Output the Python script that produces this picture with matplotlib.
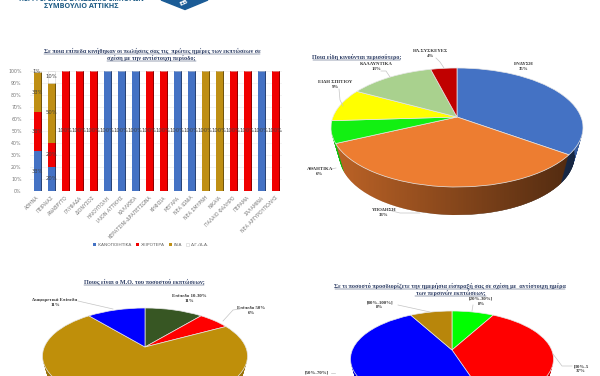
"""Survey dashboard: one stacked bar chart and three tilted pies."""
import matplotlib

matplotlib.use("Agg")
import matplotlib.pyplot as plt
import matplotlib.transforms as mtransforms
import numpy as np
from matplotlib.patches import Polygon
from matplotlib.ticker import PercentFormatter

W, H = 600, 376

# -- data --------------------------------------------------------------
areas = ["ΑΘΗΝΑ", "ΠΕΙΡΑΙΑΣ", "ΑΝΑΒΡΥΤΟ", "ΓΛΥΦΑΔΑ", "ΔΙΟΝΥΣΟΣ", "ΗΛΙΟΥΠΟΛΗ", "ΙΛΙΟΝ ΑΤΤΙΚΗΣ",
         "ΚΑΛΛΙΘΕΑ", "ΚΕΡΑΤΣΙΝΙ-ΔΡΑΠΕΤΣΩΝΑ", "ΚΗΦΙΣΙΑ", "ΜΕΓΑΡΑ", "ΝΕΑ ΙΩΝΙΑ", "ΝΕΑ ΣΜΥΡΝΗ",
         "ΝΙΚΑΙΑ", "ΠΑΛΑΙΟ ΦΑΛΗΡΟ", "ΠΕΡΑΜΑ", "ΣΑΛΑΜΙΝΑ", "ΝΕΑ ΑΡΓΥΡΟΥΠΟΛΗΣ"]
good = [33, 20, 0, 0, 0, 100, 100, 100, 0, 0, 100, 100, 0, 0, 0, 0, 100, 0]
worse = [33, 20, 100, 100, 100, 0, 0, 0, 100, 100, 0, 0, 0, 0, 100, 100, 0, 100]
same = [33, 50, 0, 0, 0, 0, 0, 0, 0, 0, 0, 0, 100, 100, 0, 0, 0, 0]
no_answer = [1, 10, 0, 0, 0, 0, 0, 0, 0, 0, 0, 0, 0, 0, 0, 0, 0, 0]
bar_names = ["ΙΚΑΝΟΠΟΙΗΤΙΚΑ", "ΧΕΙΡΟΤΕΡΑ", "ΙΔΙΑ", "Δ.Γ./Δ.Α."]
bar_colors = ["#4472c4", "#f00000", "#bf8f14", "#ffffff"]

goods_names = ["ΕΝΔΥΣΗ", "ΥΠΟΔΗΣΗ", "ΑΘΛΗΤΙΚΑ", "ΕΙΔΗ ΣΠΙΤΙΟΥ", "ΚΑΛΛΥΝΤΙΚΑ", "ΗΛ.ΣΥΣΚΕΥΕΣ"]
goods_share = [35, 33, 6, 9, 13, 4]
goods_colors = ["#4472c4", "#ed7d31", "#12f012", "#ffff00", "#a9d18e", "#c00000"]

level_names = ["Επίπεδο 10-30%", "Επίπεδο 50%", "Επίπεδο 70%", "Διαφορετικά Επίπεδα"]
level_share = [11, 6, 72, 11]
level_colors = ["#375623", "#ff0000", "#bf8f0a", "#0000ff"]

takings_names = ["[20%-30%]", "[30%-5", "[50%-70%]", "[80%-100%]"]
takings_share = [8, 37, 47, 8]
takings_colors = ["#00ff00", "#ff0000", "#0000ff", "#b8860b"]

NAVY = "#2f3f66"
serif = "Liberation Serif"
NARROW = 0.3  # side wall narrows by this many pixels per pixel of depth


class Tilt(mtransforms.Transform):
    """Unit disc seen in perspective, landing in pixel coordinates."""

    input_dims = output_dims = 2

    def __init__(self, cx, cy, top, bottom, rx, drop=0):
        super().__init__()
        self.k = (bottom - top) / (bottom + top)
        self.a = top * (1 + self.k)
        self.b = (rx - NARROW * drop) * np.sqrt(1 - self.k**2)
        self.cx, self.cy, self.drop = cx, cy, drop

    def transform_non_affine(self, values):
        x, y = np.asarray(values).T
        w = 1 + self.k * y
        return np.column_stack([self.cx + self.b * x / w, self.cy + self.drop - self.a * y / w])


def tilted_pie(ax, share, colors, cx, cy, top, bottom, rx, depth=28, shade=0.55):
    side = [tuple(c * 0.8 for c in matplotlib.colors.to_rgb(col)) for col in colors]
    for drop in range(depth, 0, -1):
        wedges, _ = ax.pie(share, colors=side, startangle=90, counterclock=False)
        for w in wedges:
            w.set_transform(Tilt(cx, cy, top, bottom, rx, drop) + ax.transData)
            w.set_zorder(1)

    # side wall darkens from left to right
    t = np.linspace(0, 2 * np.pi, 361)[:-1]
    unit = np.column_stack([np.cos(t), np.sin(t)])
    rim = Tilt(cx, cy, top, bottom, rx).transform_non_affine(unit)
    low = Tilt(cx, cy, top, bottom, rx, depth).transform_non_affine(unit)
    right, left = rim[:, 0].argmax(), rim[:, 0].argmin()
    upper = rim[right:left + 1]
    lower = np.vstack([low[left:], low[:right + 1]])
    ramp = np.zeros((1, 256, 4))
    ramp[..., 3] = np.linspace(0, shade, 256)
    img = ax.imshow(ramp, extent=[cx - rx, cx + rx, cy + bottom + depth, cy - top],
                    aspect="auto", zorder=2, interpolation="bilinear")
    img.set_clip_path(Polygon(np.vstack([upper, lower]), transform=ax.transData))

    wedges, _ = ax.pie(share, colors=colors, startangle=90, counterclock=False,
                       wedgeprops=dict(edgecolor="#e8e8e8", linewidth=0.5))
    for w in wedges:
        w.set_transform(Tilt(cx, cy, top, bottom, rx) + ax.transData)
        w.set_zorder(3)


def label(ax, x, y, name, pct, size=3.5):
    ax.text(x, y, name, ha="center", va="center", fontsize=size, family=serif, weight="bold", color="#333333", zorder=5)
    ax.text(x, y + 5.2, pct, ha="center", va="center", fontsize=size, family=serif, weight="bold", color="#333333", zorder=5)


def leader(ax, xs, ys):
    ax.plot(xs, ys, color="#c4c4c4", lw=0.5, zorder=4)


def title(ax, x0, x1, y, text, size=4.4):
    ax.text((x0 + x1) / 2, y, text, ha="center", va="center", fontsize=size, family=serif, weight="bold", color=NAVY, zorder=5)
    ax.plot([x0, x1], [y + 2.6, y + 2.6], color=NAVY, lw=0.35, zorder=5)


fig = plt.figure(figsize=(W / 100, H / 100), dpi=100)
canvas = fig.add_axes([0, 0, 1, 1])

# -- pies ---------------------------------------------------------------
tilted_pie(canvas, goods_share, goods_colors, 457, 117, 49, 70, 126, shade=0.6)
tilted_pie(canvas, level_share, level_colors, 145, 347, 39, 57, 102.5)
tilted_pie(canvas, takings_share, takings_colors, 452, 350, 39, 57, 101.5)

# -- header ---------------------------------------------------------------
canvas.text(81, 6.5, "ΣΥΜΒΟΥΛΙΟ ΑΤΤΙΚΗΣ", ha="center", va="center", fontsize=5.2, weight="bold",
            family="Open Sans", color="#1f5c85")
canvas.text(81, -0.5, "ΠΕΡΙΦΕΡΕΙΑΚΟ ΣΥΝΔΕΣΜΟ ΕΜΠΟΡΩΝ", ha="center", va="center", fontsize=4.8, weight="bold",
            family="Open Sans", color="#1f5c85", clip_on=True)
canvas.fill([161, 208, 185], [0, 0, 9.5], color="#1b5c96")
canvas.text(184, 2.5, "ΕΒ", rotation=25, ha="center", va="center", fontsize=4.5, weight="bold", color="white")

# -- titles and labels ----------------------------------------------------
title(canvas, 44, 260, 51, "Σε ποια επίπεδα κινήθηκαν οι πωλήσεις σας τις  πρώτες ημέρες των εκπτώσεων σε")
title(canvas, 107, 196, 58, "σχέση με την αντίστοιχη περίοδο;")
title(canvas, 313, 400, 57, "Ποια είδη κινούνται περισσότερο;")
title(canvas, 84, 204, 282, "Ποιος είναι ο Μ.Ο. του ποσοστού εκπτώσεων;")
title(canvas, 335, 565, 286, "Σε τι ποσοστό προσδιορίζετε την ημερήσια είσπραξή σας σε σχέση με  αντίστοιχη ημέρα")
title(canvas, 415, 486, 293, "των περσινών εκπτώσεων;")

label(canvas, 524, 64, goods_names[0], f"{goods_share[0]}%")
label(canvas, 384, 210, goods_names[1], f"{goods_share[1]}%")
label(canvas, 320, 169, goods_names[2], f"{goods_share[2]}%")
label(canvas, 335, 82, goods_names[3], f"{goods_share[3]}%")
label(canvas, 376, 64, goods_names[4], f"{goods_share[4]}%")
label(canvas, 431, 51, goods_names[5], f"{goods_share[5]}%")
leader(canvas, [392, 400, 420], [211, 213, 213])
leader(canvas, [331, 336], [169, 168])
leader(canvas, [339, 340, 343], [89, 100, 106])
leader(canvas, [381, 386, 390], [71, 71, 77])
leader(canvas, [436, 440, 444], [58, 62, 68])

label(canvas, 189, 296, level_names[0], f"{level_share[0]}%")
label(canvas, 251, 308, level_names[1], f"{level_share[1]}%")
label(canvas, 55, 300, level_names[3], f"{level_share[3]}%")
leader(canvas, [78, 113], [301, 309])
leader(canvas, [240, 233, 223], [309, 310, 321])

label(canvas, 481, 299, takings_names[0], f"{takings_share[0]}%")
label(canvas, 380, 302, takings_names[3], f"{takings_share[3]}%")
label(canvas, 581, 366, takings_names[1], f"{takings_share[1]}%")
canvas.text(317, 373, takings_names[2], ha="center", va="center", fontsize=3.5, family=serif, weight="bold",
            color="#333333", zorder=5)
leader(canvas, [398, 430], [305, 312])
leader(canvas, [473, 472], [305, 311])
leader(canvas, [572, 562, 553], [366, 366, 354])
leader(canvas, [331, 335], [373, 373])

canvas.set_aspect("auto")
canvas.set_xlim(0, W)
canvas.set_ylim(H, 0)
canvas.axis("off")

# -- stacked bars -----------------------------------------------------------
ax = fig.add_axes([30 / W, 1 - 191 / H, 252 / W, 120 / H])
x = np.arange(len(areas))
series = [good, worse, same, no_answer]
bottom = np.zeros(len(areas))
for values, name, color in zip(series, bar_names, bar_colors):
    values = np.array(values)
    dark = tuple(c * 0.6 for c in matplotlib.colors.to_rgb(color))
    edge = "#d0d0d0" if name == bar_names[3] else "none"
    ax.bar(x + 0.07, values, 0.55, bottom=bottom, color=dark if name != bar_names[3] else "white", zorder=2)
    bars = ax.bar(x, values, 0.5, bottom=bottom, color=color, edgecolor=edge, linewidth=0.4, label=name, zorder=3)
    ax.bar_label(bars, labels=[f"{v}%" if v else "" for v in values], label_type="center",
                 fontsize=3.8, color="#444444", zorder=4)
    bottom += values

ax.set_xlim(-0.5, len(areas) - 0.5)
ax.set_ylim(0, 100)
ax.yaxis.set_major_locator(plt.MultipleLocator(10))
ax.yaxis.set_major_formatter(PercentFormatter(decimals=0))
ax.grid(axis="y", color="#efefef", lw=0.5, zorder=0)
ax.set_xticks(x, areas, rotation=45, ha="right", rotation_mode="anchor")
ax.tick_params(length=0, labelsize=3.4, labelcolor="#777777", pad=3)
ax.tick_params(axis="y", pad=6)
for spine in ax.spines.values():
    spine.set_visible(False)
ax.patch.set_alpha(0)
fig.legend(loc="center", bbox_to_anchor=(151 / W, 1 - 245 / H), ncol=4, frameon=False, fontsize=3.2,
           handlelength=0.7, handleheight=0.7, handletextpad=0.4, columnspacing=0.9, labelcolor="#666666")

fig.savefig("out.png", dpi=100)
